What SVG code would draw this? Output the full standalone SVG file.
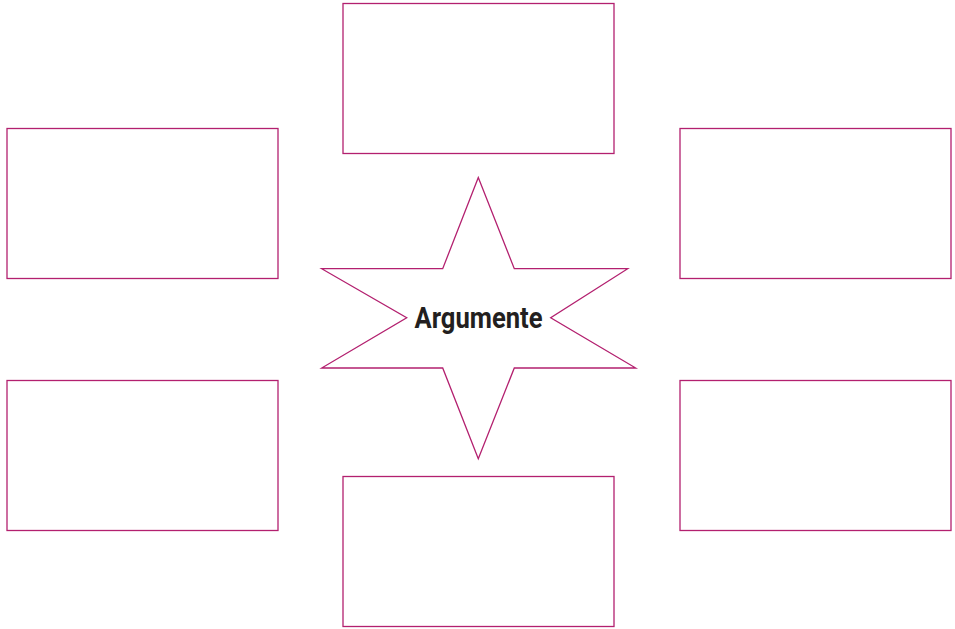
<svg xmlns="http://www.w3.org/2000/svg" width="955" height="629" viewBox="0 0 955 629">
<style>
.box{fill:#fff;stroke:#b3206f;stroke-width:1.3}
.lbl{font-family:Roboto,"Liberation Sans",sans-serif;font-weight:bold;font-size:30px;fill:#231f20}
</style>
<rect width="955" height="629" fill="#fff"/>
<g id="box-top"><rect class="box" x="343" y="3.5" width="271" height="150"/></g>
<g id="box-left-upper"><rect class="box" x="7" y="128.5" width="271" height="150"/></g>
<g id="box-right-upper"><rect class="box" x="680" y="128.5" width="271" height="150"/></g>
<g id="box-left-lower"><rect class="box" x="7" y="380.5" width="271" height="150"/></g>
<g id="box-right-lower"><rect class="box" x="680" y="380.5" width="271" height="150"/></g>
<g id="box-bottom"><rect class="box" x="343" y="476.5" width="271" height="150"/></g>
<g id="star">
<polygon class="box" points="478.3,177.5 442.7,268.7 321.7,268.7 406.7,317.7 321.7,368 442.7,368 478.3,458.7 514.3,368 635.7,368 550.7,317.7 627.7,268.7 514.3,268.7"/>
<text class="lbl" x="478.5" y="327.5" text-anchor="middle" textLength="128" lengthAdjust="spacingAndGlyphs">Argumente</text>
</g>
<g id="connectors"/>
</svg>
